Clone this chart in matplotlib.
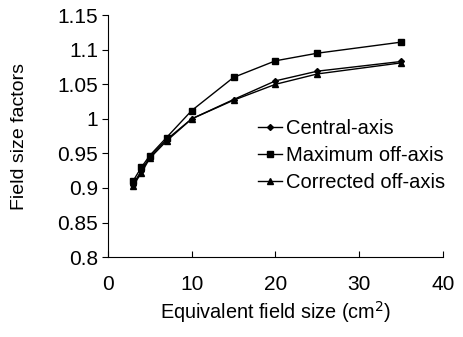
import matplotlib.pyplot as plt

plt.rcParams['font.family'] = ['Liberation Sans', 'DejaVu Sans']

field_size = [3, 4, 5, 7, 10, 15, 20, 25, 35]
central = [0.905, 0.925, 0.945, 0.970, 1.000, 1.028, 1.055, 1.069, 1.083]
max_off = [0.910, 0.930, 0.947, 0.973, 1.012, 1.060, 1.084, 1.095, 1.111]
corrected = [0.903, 0.922, 0.943, 0.968, 1.000, 1.027, 1.050, 1.065, 1.081]

fig = plt.figure(figsize=(4.63, 3.37), dpi=100)
ax = fig.add_axes([0.233, 0.237, 0.724, 0.718])

ax.plot(field_size, central, color='black', lw=1, marker='D', ms=3, label='Central-axis')
ax.plot(field_size, max_off, color='black', lw=1, marker='s', ms=4, label='Maximum off-axis')
ax.plot(field_size, corrected, color='black', lw=1, marker='^', ms=4, label='Corrected off-axis')

ax.set_xlim(0, 40)
ax.set_ylim(0.8, 1.15)
ax.set_xticks([0, 10, 20, 30, 40])
ax.set_yticks([0.8, 0.85, 0.9, 0.95, 1.0, 1.05, 1.1, 1.15])
ax.set_yticklabels(['0.8', '0.85', '0.9', '0.95', '1', '1.05', '1.1', '1.15'])
ax.spines['top'].set_visible(False)
ax.spines['right'].set_visible(False)
ax.tick_params(axis='x', direction='in', length=4, labelsize=15, pad=13)
ax.tick_params(axis='y', direction='out', length=4, labelsize=15, pad=3)

ax.set_xlabel('Equivalent field size (cm$^2$)', fontsize=14.3, va='center')
ax.xaxis.set_label_coords(0.5, -0.225)
ax.set_ylabel('Field size factors', fontsize=14, va='center')
ax.yaxis.set_label_coords(-0.265, 0.5)

ax.legend(loc='center right', bbox_to_anchor=(1.06, 0.42), frameon=False, fontsize=14.5,
          handlelength=1.2, handletextpad=0.2, labelspacing=0.4)

fig.savefig('out.png', dpi=100)
